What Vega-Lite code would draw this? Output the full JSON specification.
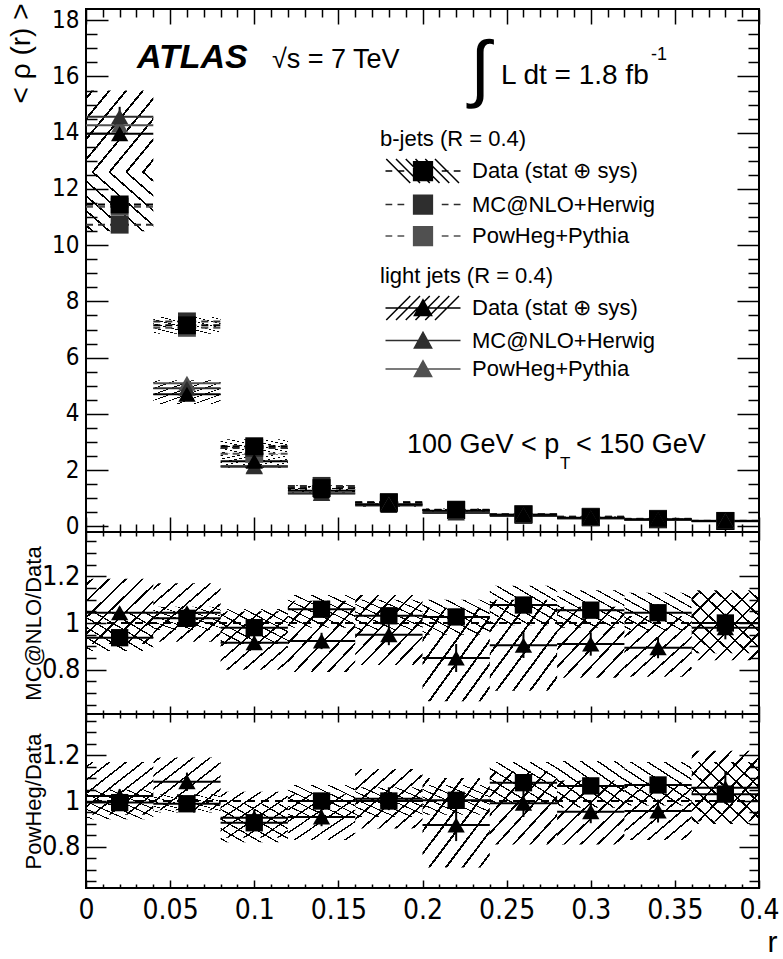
{
  "$schema": "https://vega.github.io/schema/vega-lite/v6.json",
  "padding": {"left": 5, "top": 2, "right": 5, "bottom": 5},
  "spacing": 0,
  "bounds": "flush",
  "datasets": {
    "top": [
      {"r":0.02,"lo":0,"hi":0.04,"jet":"b","model":"PowHeg+Pythia","v":11.37,"elo":11.2,"ehi":11.54},
      {"r":0.06,"lo":0.04,"hi":0.08,"jet":"b","model":"PowHeg+Pythia","v":7.06,"elo":6.97,"ehi":7.15},
      {"r":0.1,"lo":0.08,"hi":0.12,"jet":"b","model":"PowHeg+Pythia","v":2.58,"elo":2.53,"ehi":2.63},
      {"r":0.14,"lo":0.12,"hi":0.16,"jet":"b","model":"PowHeg+Pythia","v":1.36,"elo":1.33,"ehi":1.39},
      {"r":0.18,"lo":0.16,"hi":0.2,"jet":"b","model":"PowHeg+Pythia","v":0.84,"elo":0.82,"ehi":0.86},
      {"r":0.22,"lo":0.2,"hi":0.24,"jet":"b","model":"PowHeg+Pythia","v":0.58,"elo":0.565,"ehi":0.595},
      {"r":0.26,"lo":0.24,"hi":0.28,"jet":"b","model":"PowHeg+Pythia","v":0.44,"elo":0.43,"ehi":0.45},
      {"r":0.3,"lo":0.28,"hi":0.32,"jet":"b","model":"PowHeg+Pythia","v":0.34,"elo":0.33,"ehi":0.35},
      {"r":0.34,"lo":0.32,"hi":0.36,"jet":"b","model":"PowHeg+Pythia","v":0.27,"elo":0.26,"ehi":0.28},
      {"r":0.38,"lo":0.36,"hi":0.4,"jet":"b","model":"PowHeg+Pythia","v":0.196,"elo":0.186,"ehi":0.206},
      {"r":0.02,"lo":0,"hi":0.04,"jet":"light","model":"PowHeg+Pythia","v":14.27,"elo":13.92,"ehi":14.62},
      {"r":0.06,"lo":0.04,"hi":0.08,"jet":"light","model":"PowHeg+Pythia","v":5.09,"elo":4.97,"ehi":5.21},
      {"r":0.1,"lo":0.08,"hi":0.12,"jet":"light","model":"PowHeg+Pythia","v":2.15,"elo":2.08,"ehi":2.22},
      {"r":0.14,"lo":0.12,"hi":0.16,"jet":"light","model":"PowHeg+Pythia","v":1.18,"elo":1.14,"ehi":1.22},
      {"r":0.18,"lo":0.16,"hi":0.2,"jet":"light","model":"PowHeg+Pythia","v":0.79,"elo":0.76,"ehi":0.82},
      {"r":0.22,"lo":0.2,"hi":0.24,"jet":"light","model":"PowHeg+Pythia","v":0.5,"elo":0.47,"ehi":0.53},
      {"r":0.26,"lo":0.24,"hi":0.28,"jet":"light","model":"PowHeg+Pythia","v":0.41,"elo":0.39,"ehi":0.43},
      {"r":0.3,"lo":0.28,"hi":0.32,"jet":"light","model":"PowHeg+Pythia","v":0.295,"elo":0.28,"ehi":0.31},
      {"r":0.34,"lo":0.32,"hi":0.36,"jet":"light","model":"PowHeg+Pythia","v":0.239,"elo":0.227,"ehi":0.251},
      {"r":0.38,"lo":0.36,"hi":0.4,"jet":"light","model":"PowHeg+Pythia","v":0.2,"elo":0.19,"ehi":0.21},
      {"r":0.02,"lo":0,"hi":0.04,"jet":"b","model":"MC@NLO+Herwig","v":10.73,"elo":10.55,"ehi":10.91},
      {"r":0.06,"lo":0.04,"hi":0.08,"jet":"b","model":"MC@NLO+Herwig","v":7.29,"elo":7.2,"ehi":7.38},
      {"r":0.1,"lo":0.08,"hi":0.12,"jet":"b","model":"MC@NLO+Herwig","v":2.79,"elo":2.74,"ehi":2.84},
      {"r":0.14,"lo":0.12,"hi":0.16,"jet":"b","model":"MC@NLO+Herwig","v":1.44,"elo":1.41,"ehi":1.47},
      {"r":0.18,"lo":0.16,"hi":0.2,"jet":"b","model":"MC@NLO+Herwig","v":0.87,"elo":0.85,"ehi":0.89},
      {"r":0.22,"lo":0.2,"hi":0.24,"jet":"b","model":"MC@NLO+Herwig","v":0.595,"elo":0.58,"ehi":0.61},
      {"r":0.26,"lo":0.24,"hi":0.28,"jet":"b","model":"MC@NLO+Herwig","v":0.44,"elo":0.43,"ehi":0.45},
      {"r":0.3,"lo":0.28,"hi":0.32,"jet":"b","model":"MC@NLO+Herwig","v":0.34,"elo":0.33,"ehi":0.35},
      {"r":0.34,"lo":0.32,"hi":0.36,"jet":"b","model":"MC@NLO+Herwig","v":0.26,"elo":0.25,"ehi":0.27},
      {"r":0.38,"lo":0.36,"hi":0.4,"jet":"b","model":"MC@NLO+Herwig","v":0.19,"elo":0.18,"ehi":0.2},
      {"r":0.02,"lo":0,"hi":0.04,"jet":"light","model":"MC@NLO+Herwig","v":14.57,"elo":14.22,"ehi":14.92},
      {"r":0.06,"lo":0.04,"hi":0.08,"jet":"light","model":"MC@NLO+Herwig","v":4.91,"elo":4.8,"ehi":5.02},
      {"r":0.1,"lo":0.08,"hi":0.12,"jet":"light","model":"MC@NLO+Herwig","v":2.12,"elo":2.06,"ehi":2.18},
      {"r":0.14,"lo":0.12,"hi":0.16,"jet":"light","model":"MC@NLO+Herwig","v":1.17,"elo":1.13,"ehi":1.21},
      {"r":0.18,"lo":0.16,"hi":0.2,"jet":"light","model":"MC@NLO+Herwig","v":0.74,"elo":0.71,"ehi":0.77},
      {"r":0.22,"lo":0.2,"hi":0.24,"jet":"light","model":"MC@NLO+Herwig","v":0.476,"elo":0.45,"ehi":0.5},
      {"r":0.26,"lo":0.24,"hi":0.28,"jet":"light","model":"MC@NLO+Herwig","v":0.371,"elo":0.35,"ehi":0.39},
      {"r":0.3,"lo":0.28,"hi":0.32,"jet":"light","model":"MC@NLO+Herwig","v":0.282,"elo":0.268,"ehi":0.296},
      {"r":0.34,"lo":0.32,"hi":0.36,"jet":"light","model":"MC@NLO+Herwig","v":0.224,"elo":0.213,"ehi":0.235},
      {"r":0.38,"lo":0.36,"hi":0.4,"jet":"light","model":"MC@NLO+Herwig","v":0.186,"elo":0.177,"ehi":0.195},
      {"r":0.02,"lo":0,"hi":0.04,"jet":"b","model":"Data","v":11.45,"elo":10.5,"ehi":12.6},
      {"r":0.06,"lo":0.04,"hi":0.08,"jet":"b","model":"Data","v":7.15,"elo":6.85,"ehi":7.45},
      {"r":0.1,"lo":0.08,"hi":0.12,"jet":"b","model":"Data","v":2.85,"elo":2.6,"ehi":3.1},
      {"r":0.14,"lo":0.12,"hi":0.16,"jet":"b","model":"Data","v":1.36,"elo":1.27,"ehi":1.46},
      {"r":0.18,"lo":0.16,"hi":0.2,"jet":"b","model":"Data","v":0.84,"elo":0.78,"ehi":0.9},
      {"r":0.22,"lo":0.2,"hi":0.24,"jet":"b","model":"Data","v":0.58,"elo":0.54,"ehi":0.62},
      {"r":0.26,"lo":0.24,"hi":0.28,"jet":"b","model":"Data","v":0.41,"elo":0.38,"ehi":0.44},
      {"r":0.3,"lo":0.28,"hi":0.32,"jet":"b","model":"Data","v":0.32,"elo":0.3,"ehi":0.345},
      {"r":0.34,"lo":0.32,"hi":0.36,"jet":"b","model":"Data","v":0.25,"elo":0.23,"ehi":0.27},
      {"r":0.38,"lo":0.36,"hi":0.4,"jet":"b","model":"Data","v":0.19,"elo":0.175,"ehi":0.205},
      {"r":0.02,"lo":0,"hi":0.04,"jet":"light","model":"Data","v":13.96,"elo":12.6,"ehi":15.5},
      {"r":0.06,"lo":0.04,"hi":0.08,"jet":"light","model":"Data","v":4.7,"elo":4.35,"ehi":5.2},
      {"r":0.1,"lo":0.08,"hi":0.12,"jet":"light","model":"Data","v":2.32,"elo":2.08,"ehi":2.56},
      {"r":0.14,"lo":0.12,"hi":0.16,"jet":"light","model":"Data","v":1.27,"elo":1.15,"ehi":1.39},
      {"r":0.18,"lo":0.16,"hi":0.2,"jet":"light","model":"Data","v":0.78,"elo":0.7,"ehi":0.86},
      {"r":0.22,"lo":0.2,"hi":0.24,"jet":"light","model":"Data","v":0.56,"elo":0.48,"ehi":0.64},
      {"r":0.26,"lo":0.24,"hi":0.28,"jet":"light","model":"Data","v":0.41,"elo":0.35,"ehi":0.47},
      {"r":0.3,"lo":0.28,"hi":0.32,"jet":"light","model":"Data","v":0.31,"elo":0.27,"ehi":0.35},
      {"r":0.34,"lo":0.32,"hi":0.36,"jet":"light","model":"Data","v":0.25,"elo":0.22,"ehi":0.28},
      {"r":0.38,"lo":0.36,"hi":0.4,"jet":"light","model":"Data","v":0.19,"elo":0.165,"ehi":0.215}
    ],
    "ratio": [
      {"p":"MC","r":0.02,"lo":0,"hi":0.04,"jet":"light","v":1.044,"elo":1.019,"ehi":1.069,"blo":0.91,"bhi":1.19},
      {"p":"MC","r":0.06,"lo":0.04,"hi":0.08,"jet":"light","v":1.044,"elo":1.019,"ehi":1.069,"blo":0.92,"bhi":1.17},
      {"p":"MC","r":0.1,"lo":0.08,"hi":0.12,"jet":"light","v":0.915,"elo":0.885,"ehi":0.945,"blo":0.8,"bhi":1.05},
      {"p":"MC","r":0.14,"lo":0.12,"hi":0.16,"jet":"light","v":0.923,"elo":0.888,"ehi":0.958,"blo":0.79,"bhi":1.095},
      {"p":"MC","r":0.18,"lo":0.16,"hi":0.2,"jet":"light","v":0.95,"elo":0.905,"ehi":0.995,"blo":0.82,"bhi":1.12},
      {"p":"MC","r":0.22,"lo":0.2,"hi":0.24,"jet":"light","v":0.85,"elo":0.79,"ehi":0.91,"blo":0.665,"bhi":1.065},
      {"p":"MC","r":0.26,"lo":0.24,"hi":0.28,"jet":"light","v":0.905,"elo":0.85,"ehi":0.96,"blo":0.71,"bhi":1.1},
      {"p":"MC","r":0.3,"lo":0.28,"hi":0.32,"jet":"light","v":0.91,"elo":0.86,"ehi":0.96,"blo":0.765,"bhi":1.07},
      {"p":"MC","r":0.34,"lo":0.32,"hi":0.36,"jet":"light","v":0.894,"elo":0.849,"ehi":0.939,"blo":0.77,"bhi":1.03},
      {"p":"MC","r":0.38,"lo":0.36,"hi":0.4,"jet":"light","v":0.98,"elo":0.93,"ehi":1.03,"blo":0.84,"bhi":1.13},
      {"p":"MC","r":0.02,"lo":0,"hi":0.04,"jet":"b","v":0.937,"elo":0.917,"ehi":0.957,"blo":0.88,"bhi":1.05},
      {"p":"MC","r":0.06,"lo":0.04,"hi":0.08,"jet":"b","v":1.02,"elo":1.0,"ehi":1.04,"blo":0.97,"bhi":1.07},
      {"p":"MC","r":0.1,"lo":0.08,"hi":0.12,"jet":"b","v":0.98,"elo":0.96,"ehi":1.0,"blo":0.91,"bhi":1.06},
      {"p":"MC","r":0.14,"lo":0.12,"hi":0.16,"jet":"b","v":1.059,"elo":1.039,"ehi":1.079,"blo":0.98,"bhi":1.12},
      {"p":"MC","r":0.18,"lo":0.16,"hi":0.2,"jet":"b","v":1.031,"elo":1.006,"ehi":1.056,"blo":0.97,"bhi":1.1},
      {"p":"MC","r":0.22,"lo":0.2,"hi":0.24,"jet":"b","v":1.026,"elo":0.996,"ehi":1.056,"blo":0.95,"bhi":1.1},
      {"p":"MC","r":0.26,"lo":0.24,"hi":0.28,"jet":"b","v":1.077,"elo":1.047,"ehi":1.107,"blo":0.99,"bhi":1.16},
      {"p":"MC","r":0.3,"lo":0.28,"hi":0.32,"jet":"b","v":1.055,"elo":1.025,"ehi":1.085,"blo":0.98,"bhi":1.14},
      {"p":"MC","r":0.34,"lo":0.32,"hi":0.36,"jet":"b","v":1.044,"elo":1.009,"ehi":1.079,"blo":0.97,"bhi":1.13},
      {"p":"MC","r":0.38,"lo":0.36,"hi":0.4,"jet":"b","v":1.0,"elo":0.96,"ehi":1.04,"blo":0.87,"bhi":1.14},
      {"p":"PH","r":0.02,"lo":0,"hi":0.04,"jet":"light","v":1.022,"elo":0.992,"ehi":1.052,"blo":0.94,"bhi":1.17},
      {"p":"PH","r":0.06,"lo":0.04,"hi":0.08,"jet":"light","v":1.084,"elo":1.044,"ehi":1.124,"blo":0.96,"bhi":1.19},
      {"p":"PH","r":0.1,"lo":0.08,"hi":0.12,"jet":"light","v":0.927,"elo":0.892,"ehi":0.962,"blo":0.84,"bhi":1.04},
      {"p":"PH","r":0.14,"lo":0.12,"hi":0.16,"jet":"light","v":0.93,"elo":0.89,"ehi":0.97,"blo":0.83,"bhi":1.03},
      {"p":"PH","r":0.18,"lo":0.16,"hi":0.2,"jet":"light","v":1.01,"elo":0.96,"ehi":1.06,"blo":0.88,"bhi":1.14},
      {"p":"PH","r":0.22,"lo":0.2,"hi":0.24,"jet":"light","v":0.895,"elo":0.825,"ehi":0.965,"blo":0.71,"bhi":1.1},
      {"p":"PH","r":0.26,"lo":0.24,"hi":0.28,"jet":"light","v":0.99,"elo":0.93,"ehi":1.05,"blo":0.81,"bhi":1.13},
      {"p":"PH","r":0.3,"lo":0.28,"hi":0.32,"jet":"light","v":0.953,"elo":0.903,"ehi":1.003,"blo":0.81,"bhi":1.09},
      {"p":"PH","r":0.34,"lo":0.32,"hi":0.36,"jet":"light","v":0.956,"elo":0.906,"ehi":1.006,"blo":0.83,"bhi":1.08},
      {"p":"PH","r":0.38,"lo":0.36,"hi":0.4,"jet":"light","v":1.058,"elo":0.988,"ehi":1.128,"blo":0.91,"bhi":1.22},
      {"p":"PH","r":0.02,"lo":0,"hi":0.04,"jet":"b","v":0.993,"elo":0.973,"ehi":1.013,"blo":0.92,"bhi":1.05},
      {"p":"PH","r":0.06,"lo":0.04,"hi":0.08,"jet":"b","v":0.988,"elo":0.968,"ehi":1.008,"blo":0.95,"bhi":1.03},
      {"p":"PH","r":0.1,"lo":0.08,"hi":0.12,"jet":"b","v":0.905,"elo":0.885,"ehi":0.925,"blo":0.82,"bhi":0.99},
      {"p":"PH","r":0.14,"lo":0.12,"hi":0.16,"jet":"b","v":1.0,"elo":0.98,"ehi":1.02,"blo":0.93,"bhi":1.07},
      {"p":"PH","r":0.18,"lo":0.16,"hi":0.2,"jet":"b","v":1.0,"elo":0.97,"ehi":1.03,"blo":0.93,"bhi":1.06},
      {"p":"PH","r":0.22,"lo":0.2,"hi":0.24,"jet":"b","v":1.003,"elo":0.973,"ehi":1.033,"blo":0.94,"bhi":1.07},
      {"p":"PH","r":0.26,"lo":0.24,"hi":0.28,"jet":"b","v":1.08,"elo":1.05,"ehi":1.11,"blo":0.99,"bhi":1.17},
      {"p":"PH","r":0.3,"lo":0.28,"hi":0.32,"jet":"b","v":1.066,"elo":1.036,"ehi":1.096,"blo":0.97,"bhi":1.175},
      {"p":"PH","r":0.34,"lo":0.32,"hi":0.36,"jet":"b","v":1.07,"elo":1.035,"ehi":1.105,"blo":0.98,"bhi":1.17},
      {"p":"PH","r":0.38,"lo":0.36,"hi":0.4,"jet":"b","v":1.03,"elo":0.99,"ehi":1.07,"blo":0.9,"bhi":1.17}
    ]
  },
  "vconcat": [
    {
      "width": 673, "height": 523,
      "data": {"name": "top"},
      "layer": [
        {
          "transform": [{"filter": "datum.jet == 'b' && datum.model == 'Data'"}],
          "mark": {"type": "rect", "strokeWidth": 0, "fill": {"gradient": "linear", "x1": 0, "y1": 1, "x2": 1, "y2": 0, "stops": [{"offset":0,"color":"rgba(0,0,0,0)"},{"offset":0.04,"color":"rgba(0,0,0,0)"},{"offset":0.04,"color":"#000"},{"offset":0.058,"color":"#000"},{"offset":0.058,"color":"rgba(0,0,0,0)"},{"offset":0.165,"color":"rgba(0,0,0,0)"},{"offset":0.165,"color":"#000"},{"offset":0.183,"color":"#000"},{"offset":0.183,"color":"rgba(0,0,0,0)"},{"offset":0.29,"color":"rgba(0,0,0,0)"},{"offset":0.29,"color":"#000"},{"offset":0.308,"color":"#000"},{"offset":0.308,"color":"rgba(0,0,0,0)"},{"offset":0.415,"color":"rgba(0,0,0,0)"},{"offset":0.415,"color":"#000"},{"offset":0.433,"color":"#000"},{"offset":0.433,"color":"rgba(0,0,0,0)"},{"offset":0.54,"color":"rgba(0,0,0,0)"},{"offset":0.54,"color":"#000"},{"offset":0.558,"color":"#000"},{"offset":0.558,"color":"rgba(0,0,0,0)"},{"offset":0.665,"color":"rgba(0,0,0,0)"},{"offset":0.665,"color":"#000"},{"offset":0.683,"color":"#000"},{"offset":0.683,"color":"rgba(0,0,0,0)"},{"offset":0.79,"color":"rgba(0,0,0,0)"},{"offset":0.79,"color":"#000"},{"offset":0.808,"color":"#000"},{"offset":0.808,"color":"rgba(0,0,0,0)"},{"offset":0.915,"color":"rgba(0,0,0,0)"},{"offset":0.915,"color":"#000"},{"offset":0.933,"color":"#000"},{"offset":0.933,"color":"rgba(0,0,0,0)"},{"offset":1,"color":"rgba(0,0,0,0)"}]}},
          "encoding": {
            "x": {"field": "lo", "type": "quantitative", "scale": {"domain": [0, 0.4], "nice": false, "zero": false}, "axis": {"orient": "bottom", "values": [0,0.05,0.1,0.15,0.2,0.25,0.3,0.35,0.4], "tickSize": -15, "labels": false, "title": null}},
            "x2": {"field": "hi"},
            "y": {"field": "elo", "type": "quantitative", "scale": {"domain": [-0.2, 18.4], "nice": false, "zero": false}, "axis": {"orient": "left", "values": [0,2,4,6,8,10,12,14,16,18], "tickSize": -22, "labelPadding": 29, "labelFontSize": 24, "format": "~g", "title": "< ρ (r) >", "titleFont": "Liberation Sans", "titleFontSize": 28, "titleAngle": -90, "titleAlign": "right", "titleBaseline": "middle", "titleX": -65, "titleY": -6}},
            "y2": {"field": "ehi"}
          }
        },
        {
          "transform": [{"filter": "datum.jet == 'light' && datum.model == 'Data'"}],
          "mark": {"type": "rect", "strokeWidth": 0, "fill": {"gradient": "linear", "x1": 0, "y1": 0, "x2": 1, "y2": 1, "stops": [{"offset":0,"color":"rgba(0,0,0,0)"},{"offset":0.04,"color":"rgba(0,0,0,0)"},{"offset":0.04,"color":"#000"},{"offset":0.058,"color":"#000"},{"offset":0.058,"color":"rgba(0,0,0,0)"},{"offset":0.165,"color":"rgba(0,0,0,0)"},{"offset":0.165,"color":"#000"},{"offset":0.183,"color":"#000"},{"offset":0.183,"color":"rgba(0,0,0,0)"},{"offset":0.29,"color":"rgba(0,0,0,0)"},{"offset":0.29,"color":"#000"},{"offset":0.308,"color":"#000"},{"offset":0.308,"color":"rgba(0,0,0,0)"},{"offset":0.415,"color":"rgba(0,0,0,0)"},{"offset":0.415,"color":"#000"},{"offset":0.433,"color":"#000"},{"offset":0.433,"color":"rgba(0,0,0,0)"},{"offset":0.54,"color":"rgba(0,0,0,0)"},{"offset":0.54,"color":"#000"},{"offset":0.558,"color":"#000"},{"offset":0.558,"color":"rgba(0,0,0,0)"},{"offset":0.665,"color":"rgba(0,0,0,0)"},{"offset":0.665,"color":"#000"},{"offset":0.683,"color":"#000"},{"offset":0.683,"color":"rgba(0,0,0,0)"},{"offset":0.79,"color":"rgba(0,0,0,0)"},{"offset":0.79,"color":"#000"},{"offset":0.808,"color":"#000"},{"offset":0.808,"color":"rgba(0,0,0,0)"},{"offset":0.915,"color":"rgba(0,0,0,0)"},{"offset":0.915,"color":"#000"},{"offset":0.933,"color":"#000"},{"offset":0.933,"color":"rgba(0,0,0,0)"},{"offset":1,"color":"rgba(0,0,0,0)"}]}},
          "encoding": {
            "x": {"field": "lo", "type": "quantitative", "axis": {"orient": "bottom", "values": [0.01,0.02,0.03,0.04,0.06,0.07,0.08,0.09,0.11,0.12,0.13,0.14,0.16,0.17,0.18,0.19,0.21,0.22,0.23,0.24,0.26,0.27,0.28,0.29,0.31,0.32,0.33,0.34,0.36,0.37,0.38,0.39], "tickSize": -8, "labels": false, "title": null}},
            "x2": {"field": "hi"},
            "y": {"field": "elo", "type": "quantitative", "axis": {"orient": "left", "values": [0.5,1,1.5,2.5,3,3.5,4.5,5,5.5,6.5,7,7.5,8.5,9,9.5,10.5,11,11.5,12.5,13,13.5,14.5,15,15.5,16.5,17,17.5], "tickSize": -11, "labels": false, "title": null}},
            "y2": {"field": "ehi"}
          }
        },
        {
          "transform": [{"filter": "datum.jet == 'b'"}],
          "mark": {"type": "rule", "strokeWidth": 2, "strokeDash": [7, 5]},
          "encoding": {
            "x": {"field": "lo", "type": "quantitative", "axis": {"orient": "top", "values": [0,0.05,0.1,0.15,0.2,0.25,0.3,0.35,0.4], "tickSize": -15, "labels": false, "title": null}},
            "x2": {"field": "hi"},
            "y": {"field": "v", "type": "quantitative", "axis": {"orient": "right", "values": [0,2,4,6,8,10,12,14,16,18], "tickSize": -22, "labels": false, "title": null}},
            "stroke": {"field": "model", "type": "nominal", "scale": {"domain": ["Data", "MC@NLO+Herwig", "PowHeg+Pythia"], "range": ["#000000", "#2e2e2e", "#505050"]}, "legend": null}
          }
        },
        {
          "transform": [{"filter": "datum.jet == 'light'"}],
          "mark": {"type": "rule", "strokeWidth": 2},
          "encoding": {
            "x": {"field": "lo", "type": "quantitative", "axis": {"orient": "top", "values": [0.01,0.02,0.03,0.04,0.06,0.07,0.08,0.09,0.11,0.12,0.13,0.14,0.16,0.17,0.18,0.19,0.21,0.22,0.23,0.24,0.26,0.27,0.28,0.29,0.31,0.32,0.33,0.34,0.36,0.37,0.38,0.39], "tickSize": -8, "labels": false, "title": null}},
            "x2": {"field": "hi"},
            "y": {"field": "v", "type": "quantitative", "axis": {"orient": "right", "values": [0.5,1,1.5,2.5,3,3.5,4.5,5,5.5,6.5,7,7.5,8.5,9,9.5,10.5,11,11.5,12.5,13,13.5,14.5,15,15.5,16.5,17,17.5], "tickSize": -11, "labels": false, "title": null}},
            "stroke": {"field": "model", "type": "nominal", "scale": {"domain": ["Data", "MC@NLO+Herwig", "PowHeg+Pythia"], "range": ["#000000", "#2e2e2e", "#505050"]}, "legend": null}
          }
        },
        {
          "transform": [{"filter": "datum.model != 'Data'"}],
          "mark": {"type": "rule", "strokeWidth": 2, "color": "#000"},
          "encoding": {
            "x": {"field": "r", "type": "quantitative", "axis": null},
            "y": {"field": "elo", "type": "quantitative", "axis": null},
            "y2": {"field": "ehi"}
          }
        },
        {
          "transform": [{"filter": "datum.jet == 'b'"}],
          "mark": {"type": "point", "shape": "square", "filled": true, "size": 320, "opacity": 1},
          "encoding": {
            "x": {"field": "r", "type": "quantitative", "axis": null},
            "y": {"field": "v", "type": "quantitative", "axis": null},
            "fill": {"field": "model", "type": "nominal", "scale": {"domain": ["Data", "MC@NLO+Herwig", "PowHeg+Pythia"], "range": ["#000000", "#2e2e2e", "#505050"]}, "legend": null}
          }
        },
        {
          "transform": [{"filter": "datum.jet == 'light'"}],
          "mark": {"type": "point", "shape": "triangle-up", "filled": true, "size": 300, "opacity": 1},
          "encoding": {
            "x": {"field": "r", "type": "quantitative", "axis": null},
            "y": {"field": "v", "type": "quantitative", "axis": null},
            "fill": {"field": "model", "type": "nominal", "scale": {"domain": ["Data", "MC@NLO+Herwig", "PowHeg+Pythia"], "range": ["#000000", "#2e2e2e", "#505050"]}, "legend": null}
          }
        },
        {
          "transform": [{"filter": "datum.lo < 0"}],
          "mark": {"type": "point", "filled": true, "opacity": 1},
          "encoding": {
            "x": {"field": "r", "type": "quantitative", "axis": null},
            "y": {"field": "v", "type": "quantitative", "axis": null},
            "shape": {"field": "model", "type": "nominal", "scale": {"domain": ["Data", "MC@NLO+Herwig", "PowHeg+Pythia"], "range": ["M-5,0H-4.1M-3.4,0H-2.5M2.5,0H3.4M4.1,0H5M-1.25,-1.25H1.25V1.25H-1.25ZM-4.9,-1.6L-1.7,1.6M-3.6,-1.6L-0.4,1.6M-2.3,-1.6L0.9,1.6M-1,-1.6L2.2,1.6M0.3,-1.6L3.5,1.6M1.6,-1.6L4.8,1.6", "M-5,0H-4.1M-3.4,0H-2.5M2.5,0H3.4M4.1,0H5M-1.25,-1.25H1.25V1.25H-1.25Z", "M-5,0H-4.1M-3.4,0H-2.5M2.5,0H3.4M4.1,0H5M-1.25,-1.25H1.25V1.25H-1.25Z"]}, "legend": {"title": "b-jets (R = 0.4)", "orient": "none", "legendX": 294, "legendY": 120, "symbolSize": 225, "symbolStrokeWidth": 1.5, "symbolOffset": 32, "labelOffset": 38, "rowPadding": 5.5, "titlePadding": 9, "labelLimit": 400, "labelFontSize": 22, "titleFontSize": 22, "titleFontWeight": "normal", "labelFont": "Liberation Sans", "titleFont": "Liberation Sans", "labelExpr": "datum.label == 'Data' ? 'Data (stat ⊕ sys)' : datum.label"}},
            "fill": {"field": "model", "type": "nominal", "scale": {"domain": ["Data", "MC@NLO+Herwig", "PowHeg+Pythia"], "range": ["#000000", "#2e2e2e", "#505050"]}, "legend": {"title": "b-jets (R = 0.4)", "orient": "none", "legendX": 294, "legendY": 120, "symbolSize": 225, "symbolStrokeWidth": 1.5, "symbolOffset": 32, "labelOffset": 38, "rowPadding": 5.5, "titlePadding": 9, "labelLimit": 400, "labelFontSize": 22, "titleFontSize": 22, "titleFontWeight": "normal", "labelFont": "Liberation Sans", "titleFont": "Liberation Sans", "labelExpr": "datum.label == 'Data' ? 'Data (stat ⊕ sys)' : datum.label"}},
            "stroke": {"field": "model", "type": "nominal", "scale": {"domain": ["Data", "MC@NLO+Herwig", "PowHeg+Pythia"], "range": ["#000000", "#2e2e2e", "#505050"]}, "legend": {"title": "b-jets (R = 0.4)", "orient": "none", "legendX": 294, "legendY": 120, "symbolSize": 225, "symbolStrokeWidth": 1.5, "symbolOffset": 32, "labelOffset": 38, "rowPadding": 5.5, "titlePadding": 9, "labelLimit": 400, "labelFontSize": 22, "titleFontSize": 22, "titleFontWeight": "normal", "labelFont": "Liberation Sans", "titleFont": "Liberation Sans", "labelExpr": "datum.label == 'Data' ? 'Data (stat ⊕ sys)' : datum.label"}}
          }
        },
        {
          "transform": [{"filter": "datum.lo < 0"}],
          "mark": {"type": "point", "filled": true, "opacity": 1},
          "encoding": {
            "x": {"field": "r", "type": "quantitative", "axis": null},
            "y": {"field": "v", "type": "quantitative", "axis": null},
            "shape": {"field": "model", "type": "nominal", "scale": {"domain": ["Data", "MC@NLO+Herwig", "PowHeg+Pythia"], "range": ["M-5,0H5M0,-1.1L1.15,1H-1.15ZM-4.9,1.6L-1.7,-1.6M-3.6,1.6L-0.4,-1.6M-2.3,1.6L0.9,-1.6M-1,1.6L2.2,-1.6M0.3,1.6L3.5,-1.6M1.6,1.6L4.8,-1.6", "M-5,0H5M0,-1.1L1.15,1H-1.15Z", "M-5,0H5M0,-1.1L1.15,1H-1.15Z"]}, "legend": {"title": "light jets (R = 0.4)", "orient": "none", "legendX": 294, "legendY": 257, "symbolSize": 225, "symbolStrokeWidth": 1.5, "symbolOffset": 32, "labelOffset": 38, "rowPadding": 5.5, "titlePadding": 9, "labelLimit": 400, "labelFontSize": 22, "titleFontSize": 22, "titleFontWeight": "normal", "labelFont": "Liberation Sans", "titleFont": "Liberation Sans", "labelExpr": "datum.label == 'Data' ? 'Data (stat ⊕ sys)' : datum.label"}},
            "fill": {"field": "model", "type": "nominal", "scale": {"domain": ["Data", "MC@NLO+Herwig", "PowHeg+Pythia"], "range": ["#000000", "#2e2e2e", "#505050"]}, "legend": {"title": "light jets (R = 0.4)", "orient": "none", "legendX": 294, "legendY": 257, "symbolSize": 225, "symbolStrokeWidth": 1.5, "symbolOffset": 32, "labelOffset": 38, "rowPadding": 5.5, "titlePadding": 9, "labelLimit": 400, "labelFontSize": 22, "titleFontSize": 22, "titleFontWeight": "normal", "labelFont": "Liberation Sans", "titleFont": "Liberation Sans", "labelExpr": "datum.label == 'Data' ? 'Data (stat ⊕ sys)' : datum.label"}},
            "stroke": {"field": "model", "type": "nominal", "scale": {"domain": ["Data", "MC@NLO+Herwig", "PowHeg+Pythia"], "range": ["#000000", "#2e2e2e", "#505050"]}, "legend": {"title": "light jets (R = 0.4)", "orient": "none", "legendX": 294, "legendY": 257, "symbolSize": 225, "symbolStrokeWidth": 1.5, "symbolOffset": 32, "labelOffset": 38, "rowPadding": 5.5, "titlePadding": 9, "labelLimit": 400, "labelFontSize": 22, "titleFontSize": 22, "titleFontWeight": "normal", "labelFont": "Liberation Sans", "titleFont": "Liberation Sans", "labelExpr": "datum.label == 'Data' ? 'Data (stat ⊕ sys)' : datum.label"}}
          }
        },
        {
          "data": {"values": [{}]},
          "mark": {"type": "text", "text": "ATLAS", "fontSize": 34, "fontWeight": "bold", "fontStyle": "italic", "align": "left", "baseline": "alphabetic", "color": "#000"},
          "encoding": {"x": {"datum": 0.0303, "type": "quantitative", "axis": null}, "y": {"datum": 16.3, "type": "quantitative", "axis": null}}
        },
        {
          "data": {"values": [{}]},
          "mark": {"type": "text", "text": "√s = 7 TeV", "fontSize": 27, "align": "left", "baseline": "alphabetic", "color": "#000"},
          "encoding": {"x": {"datum": 0.1105, "type": "quantitative", "axis": null}, "y": {"datum": 16.3, "type": "quantitative", "axis": null}}
        },
        {
          "data": {"values": [{}]},
          "mark": {"type": "text", "text": "∫", "fontSize": 74, "align": "left", "baseline": "alphabetic", "color": "#000"},
          "encoding": {"x": {"datum": 0.2282, "type": "quantitative", "axis": null}, "y": {"datum": 15.43, "type": "quantitative", "axis": null}}
        },
        {
          "data": {"values": [{}]},
          "mark": {"type": "text", "text": "L dt = 1.8 fb", "fontSize": 28, "align": "left", "baseline": "alphabetic", "color": "#000"},
          "encoding": {"x": {"datum": 0.2467, "type": "quantitative", "axis": null}, "y": {"datum": 15.75, "type": "quantitative", "axis": null}}
        },
        {
          "data": {"values": [{}]},
          "mark": {"type": "text", "text": "-1", "fontSize": 18, "align": "left", "baseline": "alphabetic", "color": "#000"},
          "encoding": {"x": {"datum": 0.3358, "type": "quantitative", "axis": null}, "y": {"datum": 16.6, "type": "quantitative", "axis": null}}
        },
        {
          "data": {"values": [{}]},
          "mark": {"type": "text", "text": "100 GeV < p", "fontSize": 27, "align": "left", "baseline": "alphabetic", "color": "#000"},
          "encoding": {"x": {"datum": 0.1908, "type": "quantitative", "axis": null}, "y": {"datum": 2.6, "type": "quantitative", "axis": null}}
        },
        {
          "data": {"values": [{}]},
          "mark": {"type": "text", "text": "T", "fontSize": 17, "align": "left", "baseline": "alphabetic", "color": "#000"},
          "encoding": {"x": {"datum": 0.2817, "type": "quantitative", "axis": null}, "y": {"datum": 2.04, "type": "quantitative", "axis": null}}
        },
        {
          "data": {"values": [{}]},
          "mark": {"type": "text", "text": "< 150 GeV", "fontSize": 27, "align": "left", "baseline": "alphabetic", "color": "#000"},
          "encoding": {"x": {"datum": 0.2912, "type": "quantitative", "axis": null}, "y": {"datum": 2.6, "type": "quantitative", "axis": null}}
        }
      ],
      "resolve": {"axis": {"x": "independent", "y": "independent"}, "scale": {"fill": "independent", "stroke": "independent", "shape": "independent"}}
    },
    {
      "width": 673, "height": 182,
      "data": {"name": "ratio"},
      "layer": [
        {
          "transform": [{"filter": "datum.p == 'MC' && datum.jet == 'light'"}],
          "mark": {"type": "rect", "strokeWidth": 0, "fill": {"gradient": "linear", "x1": 0, "y1": 0, "x2": 1, "y2": 1, "stops": [{"offset":0,"color":"rgba(0,0,0,0)"},{"offset":0.04,"color":"rgba(0,0,0,0)"},{"offset":0.04,"color":"#000"},{"offset":0.058,"color":"#000"},{"offset":0.058,"color":"rgba(0,0,0,0)"},{"offset":0.165,"color":"rgba(0,0,0,0)"},{"offset":0.165,"color":"#000"},{"offset":0.183,"color":"#000"},{"offset":0.183,"color":"rgba(0,0,0,0)"},{"offset":0.29,"color":"rgba(0,0,0,0)"},{"offset":0.29,"color":"#000"},{"offset":0.308,"color":"#000"},{"offset":0.308,"color":"rgba(0,0,0,0)"},{"offset":0.415,"color":"rgba(0,0,0,0)"},{"offset":0.415,"color":"#000"},{"offset":0.433,"color":"#000"},{"offset":0.433,"color":"rgba(0,0,0,0)"},{"offset":0.54,"color":"rgba(0,0,0,0)"},{"offset":0.54,"color":"#000"},{"offset":0.558,"color":"#000"},{"offset":0.558,"color":"rgba(0,0,0,0)"},{"offset":0.665,"color":"rgba(0,0,0,0)"},{"offset":0.665,"color":"#000"},{"offset":0.683,"color":"#000"},{"offset":0.683,"color":"rgba(0,0,0,0)"},{"offset":0.79,"color":"rgba(0,0,0,0)"},{"offset":0.79,"color":"#000"},{"offset":0.808,"color":"#000"},{"offset":0.808,"color":"rgba(0,0,0,0)"},{"offset":0.915,"color":"rgba(0,0,0,0)"},{"offset":0.915,"color":"#000"},{"offset":0.933,"color":"#000"},{"offset":0.933,"color":"rgba(0,0,0,0)"},{"offset":1,"color":"rgba(0,0,0,0)"}]}},
          "encoding": {
            "x": {"field": "lo", "type": "quantitative", "scale": {"domain": [0, 0.4], "nice": false, "zero": false}, "axis": {"orient": "bottom", "values": [0,0.05,0.1,0.15,0.2,0.25,0.3,0.35,0.4], "tickSize": -8, "labels": false, "title": null}},
            "x2": {"field": "hi"},
            "y": {"field": "blo", "type": "quantitative", "scale": {"domain": [0.61, 1.39], "nice": false, "zero": false}, "axis": {"orient": "left", "values": [0.8, 1, 1.2], "tickSize": -20, "labelPadding": 26, "format": "~g", "title": "MC@NLO/Data", "titleFont": "Liberation Sans", "titleFontSize": 22, "titleAngle": -90, "titleAlign": "center", "titleBaseline": "middle", "titleX": -53, "titleY": 91}},
            "y2": {"field": "bhi"}
          }
        },
        {
          "transform": [{"filter": "datum.p == 'MC' && datum.jet == 'b'"}],
          "mark": {"type": "rect", "strokeWidth": 0, "fill": {"gradient": "linear", "x1": 0, "y1": 1, "x2": 1, "y2": 0, "stops": [{"offset":0,"color":"rgba(0,0,0,0)"},{"offset":0.04,"color":"rgba(0,0,0,0)"},{"offset":0.04,"color":"#000"},{"offset":0.058,"color":"#000"},{"offset":0.058,"color":"rgba(0,0,0,0)"},{"offset":0.165,"color":"rgba(0,0,0,0)"},{"offset":0.165,"color":"#000"},{"offset":0.183,"color":"#000"},{"offset":0.183,"color":"rgba(0,0,0,0)"},{"offset":0.29,"color":"rgba(0,0,0,0)"},{"offset":0.29,"color":"#000"},{"offset":0.308,"color":"#000"},{"offset":0.308,"color":"rgba(0,0,0,0)"},{"offset":0.415,"color":"rgba(0,0,0,0)"},{"offset":0.415,"color":"#000"},{"offset":0.433,"color":"#000"},{"offset":0.433,"color":"rgba(0,0,0,0)"},{"offset":0.54,"color":"rgba(0,0,0,0)"},{"offset":0.54,"color":"#000"},{"offset":0.558,"color":"#000"},{"offset":0.558,"color":"rgba(0,0,0,0)"},{"offset":0.665,"color":"rgba(0,0,0,0)"},{"offset":0.665,"color":"#000"},{"offset":0.683,"color":"#000"},{"offset":0.683,"color":"rgba(0,0,0,0)"},{"offset":0.79,"color":"rgba(0,0,0,0)"},{"offset":0.79,"color":"#000"},{"offset":0.808,"color":"#000"},{"offset":0.808,"color":"rgba(0,0,0,0)"},{"offset":0.915,"color":"rgba(0,0,0,0)"},{"offset":0.915,"color":"#000"},{"offset":0.933,"color":"#000"},{"offset":0.933,"color":"rgba(0,0,0,0)"},{"offset":1,"color":"rgba(0,0,0,0)"}]}},
          "encoding": {
            "x": {"field": "lo", "type": "quantitative", "axis": {"orient": "bottom", "values": [0.01,0.02,0.03,0.04,0.06,0.07,0.08,0.09,0.11,0.12,0.13,0.14,0.16,0.17,0.18,0.19,0.21,0.22,0.23,0.24,0.26,0.27,0.28,0.29,0.31,0.32,0.33,0.34,0.36,0.37,0.38,0.39], "tickSize": -4, "labels": false, "title": null}},
            "x2": {"field": "hi"},
            "y": {"field": "blo", "type": "quantitative", "axis": {"orient": "left", "values": [0.65,0.7,0.75,0.85,0.9,0.95,1.05,1.1,1.15,1.25,1.3,1.35], "tickSize": -10, "labels": false, "title": null}},
            "y2": {"field": "bhi"}
          }
        },
        {
          "data": {"values": [{}]},
          "mark": {"type": "rule", "strokeWidth": 2, "strokeDash": [8, 6], "color": "#000"},
          "encoding": {"y": {"datum": 1, "type": "quantitative", "axis": null}}
        },
        {
          "transform": [{"filter": "datum.p == 'MC'"}],
          "mark": {"type": "rule", "strokeWidth": 2, "color": "#000"},
          "encoding": {
            "x": {"field": "lo", "type": "quantitative", "axis": {"orient": "top", "values": [0,0.05,0.1,0.15,0.2,0.25,0.3,0.35,0.4], "tickSize": -8, "labels": false, "title": null}},
            "x2": {"field": "hi"},
            "y": {"field": "v", "type": "quantitative", "axis": {"orient": "right", "values": [0.8, 1, 1.2], "tickSize": -20, "labels": false, "title": null}}
          }
        },
        {
          "transform": [{"filter": "datum.p == 'MC'"}],
          "mark": {"type": "rule", "strokeWidth": 2, "color": "#000"},
          "encoding": {
            "x": {"field": "r", "type": "quantitative", "axis": {"orient": "top", "values": [0.01,0.02,0.03,0.04,0.06,0.07,0.08,0.09,0.11,0.12,0.13,0.14,0.16,0.17,0.18,0.19,0.21,0.22,0.23,0.24,0.26,0.27,0.28,0.29,0.31,0.32,0.33,0.34,0.36,0.37,0.38,0.39], "tickSize": -4, "labels": false, "title": null}},
            "y": {"field": "elo", "type": "quantitative", "axis": {"orient": "right", "values": [0.65,0.7,0.75,0.85,0.9,0.95,1.05,1.1,1.15,1.25,1.3,1.35], "tickSize": -10, "labels": false, "title": null}},
            "y2": {"field": "ehi"}
          }
        },
        {
          "transform": [{"filter": "datum.p == 'MC'"}],
          "mark": {"type": "point", "filled": true, "opacity": 1, "color": "#000", "size": 300},
          "encoding": {
            "x": {"field": "r", "type": "quantitative", "axis": null},
            "y": {"field": "v", "type": "quantitative", "axis": null},
            "shape": {"field": "jet", "type": "nominal", "scale": {"domain": ["b", "light"], "range": ["square", "triangle-up"]}, "legend": null}
          }
        }
      ],
      "resolve": {"axis": {"x": "independent", "y": "independent"}}
    },
    {
      "width": 673, "height": 174,
      "data": {"name": "ratio"},
      "layer": [
        {
          "transform": [{"filter": "datum.p == 'PH' && datum.jet == 'light'"}],
          "mark": {"type": "rect", "strokeWidth": 0, "fill": {"gradient": "linear", "x1": 0, "y1": 0, "x2": 1, "y2": 1, "stops": [{"offset":0,"color":"rgba(0,0,0,0)"},{"offset":0.04,"color":"rgba(0,0,0,0)"},{"offset":0.04,"color":"#000"},{"offset":0.058,"color":"#000"},{"offset":0.058,"color":"rgba(0,0,0,0)"},{"offset":0.165,"color":"rgba(0,0,0,0)"},{"offset":0.165,"color":"#000"},{"offset":0.183,"color":"#000"},{"offset":0.183,"color":"rgba(0,0,0,0)"},{"offset":0.29,"color":"rgba(0,0,0,0)"},{"offset":0.29,"color":"#000"},{"offset":0.308,"color":"#000"},{"offset":0.308,"color":"rgba(0,0,0,0)"},{"offset":0.415,"color":"rgba(0,0,0,0)"},{"offset":0.415,"color":"#000"},{"offset":0.433,"color":"#000"},{"offset":0.433,"color":"rgba(0,0,0,0)"},{"offset":0.54,"color":"rgba(0,0,0,0)"},{"offset":0.54,"color":"#000"},{"offset":0.558,"color":"#000"},{"offset":0.558,"color":"rgba(0,0,0,0)"},{"offset":0.665,"color":"rgba(0,0,0,0)"},{"offset":0.665,"color":"#000"},{"offset":0.683,"color":"#000"},{"offset":0.683,"color":"rgba(0,0,0,0)"},{"offset":0.79,"color":"rgba(0,0,0,0)"},{"offset":0.79,"color":"#000"},{"offset":0.808,"color":"#000"},{"offset":0.808,"color":"rgba(0,0,0,0)"},{"offset":0.915,"color":"rgba(0,0,0,0)"},{"offset":0.915,"color":"#000"},{"offset":0.933,"color":"#000"},{"offset":0.933,"color":"rgba(0,0,0,0)"},{"offset":1,"color":"rgba(0,0,0,0)"}]}},
          "encoding": {
            "x": {"field": "lo", "type": "quantitative", "scale": {"domain": [0, 0.4], "nice": false, "zero": false}, "axis": {"orient": "bottom", "values": [0,0.05,0.1,0.15,0.2,0.25,0.3,0.35,0.4], "tickSize": -8, "labelPadding": 16, "labelFontSize": 28, "labelFlush": false, "format": "~g", "title": "r", "titleFont": "Liberation Sans", "titleFontSize": 30, "titleAlign": "right", "titleBaseline": "alphabetic", "titleX": 691, "titleY": 63}},
            "x2": {"field": "hi"},
            "y": {"field": "blo", "type": "quantitative", "scale": {"domain": [0.62, 1.38], "nice": false, "zero": false}, "axis": {"orient": "left", "values": [0.8, 1, 1.2], "tickSize": -20, "labelPadding": 26, "format": "~g", "title": "PowHeg/Data", "titleFont": "Liberation Sans", "titleFontSize": 22, "titleAngle": -90, "titleAlign": "center", "titleBaseline": "middle", "titleX": -53, "titleY": 87}},
            "y2": {"field": "bhi"}
          }
        },
        {
          "transform": [{"filter": "datum.p == 'PH' && datum.jet == 'b'"}],
          "mark": {"type": "rect", "strokeWidth": 0, "fill": {"gradient": "linear", "x1": 0, "y1": 1, "x2": 1, "y2": 0, "stops": [{"offset":0,"color":"rgba(0,0,0,0)"},{"offset":0.04,"color":"rgba(0,0,0,0)"},{"offset":0.04,"color":"#000"},{"offset":0.058,"color":"#000"},{"offset":0.058,"color":"rgba(0,0,0,0)"},{"offset":0.165,"color":"rgba(0,0,0,0)"},{"offset":0.165,"color":"#000"},{"offset":0.183,"color":"#000"},{"offset":0.183,"color":"rgba(0,0,0,0)"},{"offset":0.29,"color":"rgba(0,0,0,0)"},{"offset":0.29,"color":"#000"},{"offset":0.308,"color":"#000"},{"offset":0.308,"color":"rgba(0,0,0,0)"},{"offset":0.415,"color":"rgba(0,0,0,0)"},{"offset":0.415,"color":"#000"},{"offset":0.433,"color":"#000"},{"offset":0.433,"color":"rgba(0,0,0,0)"},{"offset":0.54,"color":"rgba(0,0,0,0)"},{"offset":0.54,"color":"#000"},{"offset":0.558,"color":"#000"},{"offset":0.558,"color":"rgba(0,0,0,0)"},{"offset":0.665,"color":"rgba(0,0,0,0)"},{"offset":0.665,"color":"#000"},{"offset":0.683,"color":"#000"},{"offset":0.683,"color":"rgba(0,0,0,0)"},{"offset":0.79,"color":"rgba(0,0,0,0)"},{"offset":0.79,"color":"#000"},{"offset":0.808,"color":"#000"},{"offset":0.808,"color":"rgba(0,0,0,0)"},{"offset":0.915,"color":"rgba(0,0,0,0)"},{"offset":0.915,"color":"#000"},{"offset":0.933,"color":"#000"},{"offset":0.933,"color":"rgba(0,0,0,0)"},{"offset":1,"color":"rgba(0,0,0,0)"}]}},
          "encoding": {
            "x": {"field": "lo", "type": "quantitative", "axis": {"orient": "bottom", "values": [0.01,0.02,0.03,0.04,0.06,0.07,0.08,0.09,0.11,0.12,0.13,0.14,0.16,0.17,0.18,0.19,0.21,0.22,0.23,0.24,0.26,0.27,0.28,0.29,0.31,0.32,0.33,0.34,0.36,0.37,0.38,0.39], "tickSize": -4, "labels": false, "title": null}},
            "x2": {"field": "hi"},
            "y": {"field": "blo", "type": "quantitative", "axis": {"orient": "left", "values": [0.65,0.7,0.75,0.85,0.9,0.95,1.05,1.1,1.15,1.25,1.3,1.35], "tickSize": -10, "labels": false, "title": null}},
            "y2": {"field": "bhi"}
          }
        },
        {
          "data": {"values": [{}]},
          "mark": {"type": "rule", "strokeWidth": 2, "strokeDash": [8, 6], "color": "#000"},
          "encoding": {"y": {"datum": 1, "type": "quantitative", "axis": null}}
        },
        {
          "transform": [{"filter": "datum.p == 'PH'"}],
          "mark": {"type": "rule", "strokeWidth": 2, "color": "#000"},
          "encoding": {
            "x": {"field": "lo", "type": "quantitative", "axis": {"orient": "top", "values": [0,0.05,0.1,0.15,0.2,0.25,0.3,0.35,0.4], "tickSize": -8, "labels": false, "title": null}},
            "x2": {"field": "hi"},
            "y": {"field": "v", "type": "quantitative", "axis": {"orient": "right", "values": [0.8, 1, 1.2], "tickSize": -20, "labels": false, "title": null}}
          }
        },
        {
          "transform": [{"filter": "datum.p == 'PH'"}],
          "mark": {"type": "rule", "strokeWidth": 2, "color": "#000"},
          "encoding": {
            "x": {"field": "r", "type": "quantitative", "axis": {"orient": "top", "values": [0.01,0.02,0.03,0.04,0.06,0.07,0.08,0.09,0.11,0.12,0.13,0.14,0.16,0.17,0.18,0.19,0.21,0.22,0.23,0.24,0.26,0.27,0.28,0.29,0.31,0.32,0.33,0.34,0.36,0.37,0.38,0.39], "tickSize": -4, "labels": false, "title": null}},
            "y": {"field": "elo", "type": "quantitative", "axis": {"orient": "right", "values": [0.65,0.7,0.75,0.85,0.9,0.95,1.05,1.1,1.15,1.25,1.3,1.35], "tickSize": -10, "labels": false, "title": null}},
            "y2": {"field": "ehi"}
          }
        },
        {
          "transform": [{"filter": "datum.p == 'PH'"}],
          "mark": {"type": "point", "filled": true, "opacity": 1, "color": "#000", "size": 300},
          "encoding": {
            "x": {"field": "r", "type": "quantitative", "axis": null},
            "y": {"field": "v", "type": "quantitative", "axis": null},
            "shape": {"field": "jet", "type": "nominal", "scale": {"domain": ["b", "light"], "range": ["square", "triangle-up"]}, "legend": null}
          }
        }
      ],
      "resolve": {"axis": {"x": "independent", "y": "independent"}}
    }
  ],
  "config": {
    "font": "Liberation Sans",
    "view": {"stroke": "#000", "strokeWidth": 2},
    "axis": {"domain": false, "grid": false, "ticks": true, "tickColor": "#000", "tickWidth": 1.5, "labelColor": "#000", "titleColor": "#000", "labelFont": "Liberation Sans Narrow, DejaVu Sans Condensed, Liberation Sans", "labelFontSize": 27, "labelOverlap": false, "labelFlush": false, "titleFontWeight": "normal", "zindex": 1},
    "legend": {"titleFontWeight": "normal", "labelColor": "#000", "titleColor": "#000"}
  }
}
